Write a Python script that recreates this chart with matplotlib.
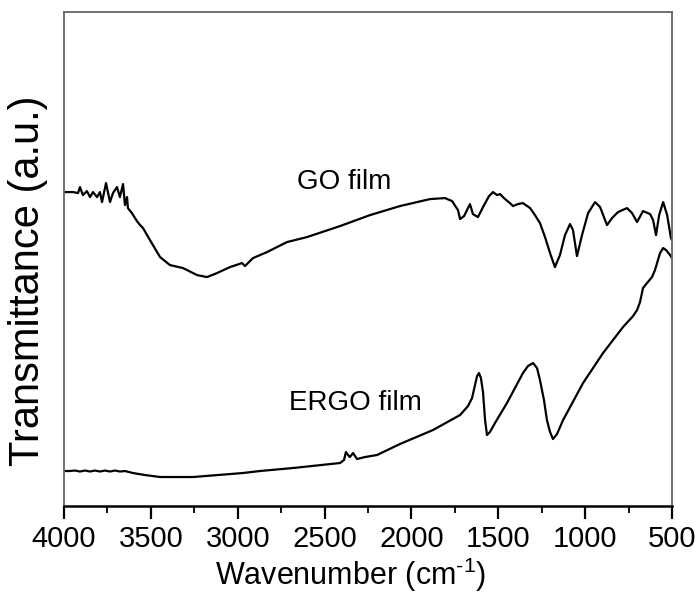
import matplotlib
matplotlib.use("Agg")
import matplotlib.pyplot as plt
from matplotlib.ticker import MultipleLocator

plt.rcParams['font.family'] = ['Liberation Sans', 'DejaVu Sans']
plt.rcParams['mathtext.fontset'] = 'custom'
plt.rcParams['mathtext.rm'] = 'Liberation Sans'

# FTIR spectra (wavenumber in cm^-1, transmittance in a.u.)
go_wn = [4000, 3948, 3919, 3908, 3891, 3868, 3850, 3833, 3810, 3793, 3781, 3758,
         3735, 3718, 3695, 3678, 3660, 3649, 3637, 3632, 3609, 3591, 3580, 3562,
         3545, 3505, 3447, 3390, 3315, 3234, 3177, 3119, 3044, 2975, 2958, 2912,
         2831, 2716, 2601, 2411, 2238, 2066, 1893, 1807, 1766, 1732, 1720, 1697,
         1680, 1663, 1646, 1617, 1582, 1553, 1530, 1507, 1490, 1461, 1433, 1415,
         1387, 1358, 1317, 1289, 1260, 1231, 1202, 1174, 1145, 1116, 1087, 1070,
         1047, 1018, 983, 943, 914, 874, 845, 811, 759, 730, 701, 667, 626, 609,
         592, 574, 551, 528, 506, 500]
go_t = [314, 314, 313, 319, 311, 315, 309, 314, 309, 314, 304, 323,
        304, 313, 319, 309, 322, 301, 309, 298, 293, 288, 285, 281,
        278, 266, 249, 241, 238, 231, 229, 233, 239, 243, 240, 248,
        254, 264, 269, 280, 291, 300, 307, 308, 305, 296, 287, 290,
        296, 302, 292, 289, 301, 310, 314, 311, 312, 307, 303, 300,
        302, 303, 298, 291, 283, 269, 253, 239, 251, 271, 282, 276,
        250, 271, 293, 304, 299, 281, 288, 294, 298, 293, 284, 295, 292, 286,
        271, 291, 304, 291, 268, 266]

ergo_wn = [4000, 3965, 3937, 3908, 3879, 3850, 3822, 3793, 3764, 3735, 3706, 3678,
           3649, 3603, 3534, 3447, 3257, 2970, 2872, 2682, 2411, 2388, 2377, 2365,
           2354, 2336, 2313, 2267, 2198, 2066, 1876, 1720, 1674, 1651, 1634, 1622,
           1611, 1600, 1588, 1576, 1565, 1548, 1519, 1450, 1358, 1329, 1300, 1277,
           1260, 1237, 1220, 1202, 1185, 1162, 1127, 1012, 897, 782, 724, 701,
           684, 667, 644, 615, 598, 586, 569, 551, 534, 511, 500]
ergo_t = [35, 35, 35.5, 34.5, 35.5, 34.5, 35.5, 34.5, 35.5, 34.5, 35.5, 34.5,
          35, 33, 31, 29, 29, 33, 35, 38, 43, 46, 54, 51,
          49, 53, 47, 49, 51, 62, 76, 91, 100, 108, 121, 130,
          133, 128, 114, 86, 71, 74, 83, 103, 133, 140, 143, 138,
          126, 106, 86, 74, 67, 72, 86, 123, 153, 179, 190, 196,
          204, 218, 223, 229, 236, 243, 253, 258, 256, 251, 248]

labels = ["GO film", "ERGO film"]
label_pos = [(2388, 324), (2325, 103)]

fig = plt.figure(figsize=(7.0, 6.06), dpi=100)
ax = fig.add_axes([0.0914, 0.165, 0.8686, 0.815])

ax.plot(go_wn, go_t, color='black', lw=1.6)
ax.plot(ergo_wn, ergo_t, color='black', lw=1.6)

for txt, (xx, yy) in zip(labels, label_pos):
    ax.text(xx, yy, txt, fontsize=20, ha='center', va='center')

ax.set_xlim(4000, 500)
ax.set_ylim(0, 494)
ax.xaxis.set_major_locator(MultipleLocator(500))
ax.xaxis.set_minor_locator(MultipleLocator(250))
ax.set_yticks([])

ax.tick_params(axis='x', which='major', direction='out', length=9, width=1.6,
               labelsize=21, pad=5)
ax.tick_params(axis='x', which='minor', direction='out', length=5, width=1.3)

for side in ['left', 'top', 'right']:
    ax.spines[side].set_color('#666666')
    ax.spines[side].set_linewidth(1.3)
ax.spines['bottom'].set_color('black')
ax.spines['bottom'].set_linewidth(1.8)

ax.set_xlabel(r'Wavenumber (cm$^{\text{-1}}$)', fontsize=22)
ax.xaxis.set_label_coords(0.472, -0.1)
ax.set_ylabel('Transmittance (a.u.)', fontsize=30)
ax.yaxis.set_label_coords(-0.027, 0.457)

fig.savefig('out.png', dpi=100)
